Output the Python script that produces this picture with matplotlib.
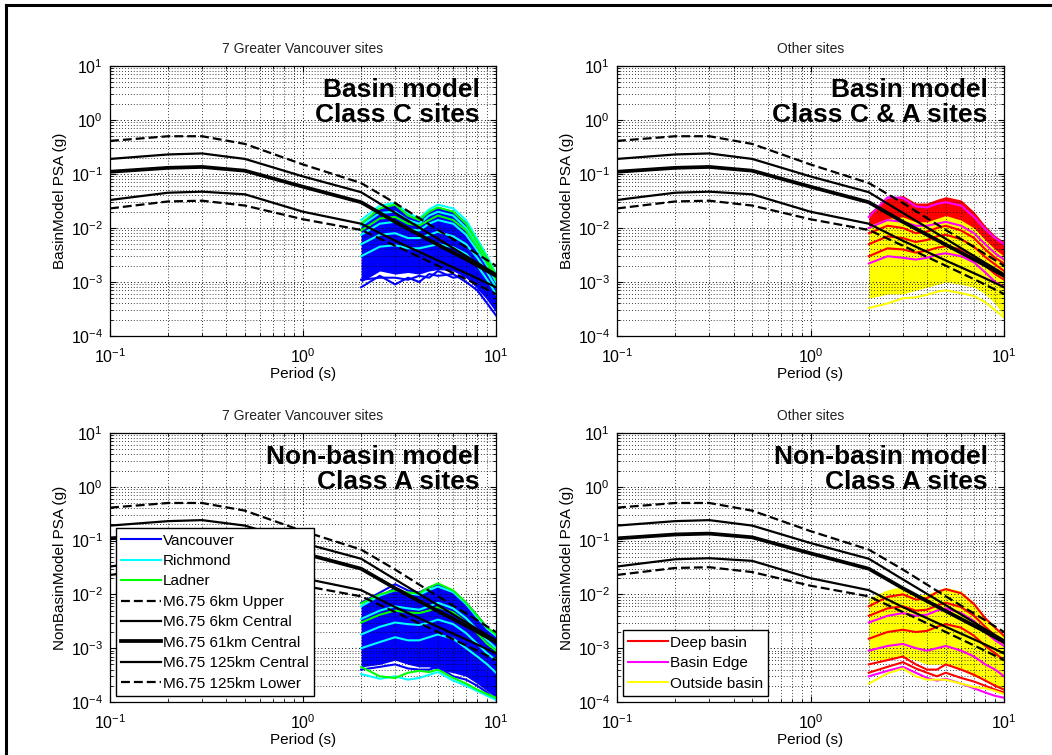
import matplotlib
matplotlib.use('Agg')
import matplotlib.pyplot as plt
from matplotlib.lines import Line2D

plt.rcParams['font.family'] = ['Liberation Sans', 'DejaVu Sans']
plt.rcParams['mathtext.default'] = 'regular'

# reference GMPE spectra (same in every panel)
P_REF = [0.1, 0.2, 0.3, 0.5, 1, 2, 3, 5, 7.5, 10]
ref_6km_upper = [0.41, 0.50, 0.50, 0.36, 0.15, 0.068, 0.029, 0.0092, 0.0038, 0.0020]
ref_6km_central = [0.19, 0.23, 0.24, 0.19, 0.090, 0.046, 0.019, 0.0063, 0.0026, 0.0014]
ref_61km_central = [0.11, 0.13, 0.135, 0.115, 0.058, 0.030, 0.013, 0.0049, 0.0023, 0.0013]
ref_125km_central = [0.033, 0.045, 0.047, 0.042, 0.020, 0.012, 0.0058, 0.0025, 0.0013, 0.0008]
ref_125km_lower = [0.023, 0.031, 0.032, 0.026, 0.0145, 0.0092, 0.0047, 0.0020, 0.0010, 0.0006]
REF_LABELS = ['M6.75 6km Upper', 'M6.75 6km Central', 'M6.75 61km Central',
              'M6.75 125km Central', 'M6.75 125km Lower']

# simulated spectra, periods 2-10 s
P_SIM = [2, 2.5, 3, 3.5, 4, 4.5, 5, 6, 7, 8, 9, 10]

# top left: basin model, Greater Vancouver
tl_band_hi = [0.013, 0.024, 0.027, 0.018, 0.015, 0.021, 0.025, 0.021, 0.013, 0.0060, 0.0029, 0.0014]
tl_band_lo = [0.0010, 0.0016, 0.0014, 0.0015, 0.0014, 0.0016, 0.0017, 0.0016, 0.0012, 0.0008, 0.0005, 0.00028]
tl_vancouver = [
    [0.0008, 0.0013, 0.0009, 0.0012, 0.0010, 0.0014, 0.0013, 0.0014, 0.0010, 0.0007, 0.0004, 0.00024],
    [0.0011, 0.0012, 0.0012, 0.0011, 0.0013, 0.0012, 0.0016, 0.0012, 0.0013, 0.0008, 0.0005, 0.0003],
]
tl_richmond = [
    [0.014, 0.026, 0.029, 0.019, 0.015, 0.022, 0.027, 0.023, 0.014, 0.0062, 0.0030, 0.0014],
    [0.011, 0.019, 0.020, 0.014, 0.012, 0.017, 0.020, 0.017, 0.010, 0.0050, 0.0025, 0.0012],
    [0.0075, 0.012, 0.013, 0.0095, 0.009, 0.012, 0.014, 0.012, 0.0075, 0.0038, 0.0020, 0.0010],
    [0.005, 0.0075, 0.008, 0.0065, 0.0065, 0.0075, 0.0085, 0.007, 0.005, 0.0028, 0.0015, 0.0008],
    [0.003, 0.0045, 0.0048, 0.0042, 0.0042, 0.0046, 0.005, 0.0044, 0.0033, 0.0020, 0.0011, 0.0006],
]
tl_ladner = [
    [0.012, 0.023, 0.027, 0.017, 0.014, 0.020, 0.024, 0.020, 0.012, 0.0055, 0.0027, 0.0013],
    [0.009, 0.015, 0.016, 0.012, 0.011, 0.014, 0.017, 0.014, 0.009, 0.0044, 0.0022, 0.0011],
]

# top right: basin model, other sites
tr_yellow_hi = [0.012, 0.017, 0.017, 0.014, 0.014, 0.016, 0.017, 0.015, 0.011, 0.0065, 0.0042, 0.0032]
tr_yellow_lo = [0.0005, 0.0006, 0.0006, 0.0007, 0.0008, 0.0009, 0.0010, 0.0009, 0.0008, 0.0006, 0.0004, 0.00023]
tr_red_hi = [0.019, 0.036, 0.040, 0.029, 0.029, 0.034, 0.038, 0.033, 0.020, 0.011, 0.0072, 0.0056]
tr_red_lo = [0.011, 0.015, 0.016, 0.013, 0.013, 0.015, 0.017, 0.014, 0.010, 0.0060, 0.0040, 0.0030]
tr_deep = [
    [0.008, 0.011, 0.010, 0.008, 0.0085, 0.010, 0.011, 0.009, 0.0065, 0.004, 0.0028, 0.0022],
    [0.005, 0.007, 0.0065, 0.0055, 0.006, 0.007, 0.0075, 0.0062, 0.0045, 0.0029, 0.0021, 0.0016],
    [0.003, 0.0042, 0.004, 0.0035, 0.0038, 0.0043, 0.0046, 0.0040, 0.0030, 0.0020, 0.0014, 0.0011],
]
tr_edge = [
    [0.016, 0.037, 0.036, 0.025, 0.024, 0.028, 0.030, 0.026, 0.016, 0.0095, 0.0065, 0.0050],
    [0.010, 0.014, 0.013, 0.011, 0.011, 0.012, 0.013, 0.011, 0.008, 0.005, 0.0034, 0.0026],
    [0.0022, 0.003, 0.0028, 0.0026, 0.0028, 0.0032, 0.0034, 0.003, 0.0023, 0.0015, 0.0010, 0.0008],
]
tr_outside = [
    [0.00033, 0.00040, 0.00050, 0.00052, 0.00058, 0.00066, 0.00070, 0.00062, 0.00055, 0.00042, 0.00030, 0.00022],
]

# bottom left: non-basin model, Greater Vancouver
bl_band_hi = [0.0065, 0.0100, 0.0140, 0.0110, 0.0100, 0.0125, 0.0145, 0.0110, 0.0067, 0.0038, 0.0023, 0.0017]
bl_band_lo = [0.00045, 0.0005, 0.0006, 0.0005, 0.00045, 0.00045, 0.0004, 0.00035, 0.0003, 0.00022, 0.00016, 0.00012]
bl_vancouver = [
    [0.0070, 0.0108, 0.0155, 0.0118, 0.0108, 0.0135, 0.0150, 0.0115, 0.0070, 0.0040, 0.0024, 0.0018],
    [0.0004, 0.00045, 0.0005, 0.00042, 0.0004, 0.0004, 0.00045, 0.0003, 0.00026, 0.0002, 0.00015, 0.00011],
]
bl_richmond = [
    [0.0060, 0.0095, 0.012, 0.0105, 0.0098, 0.0120, 0.0140, 0.0110, 0.0066, 0.0037, 0.0023, 0.0017],
    [0.0035, 0.0050, 0.0060, 0.0055, 0.0052, 0.0060, 0.0070, 0.0055, 0.0036, 0.0022, 0.0014, 0.0010],
    [0.0018, 0.0025, 0.0030, 0.0028, 0.0027, 0.0030, 0.0034, 0.0028, 0.0019, 0.0012, 0.0008, 0.0006],
    [0.0010, 0.0013, 0.0016, 0.0014, 0.0014, 0.0016, 0.0018, 0.0015, 0.0010, 0.0007, 0.0005, 0.00035],
    [0.00033, 0.00027, 0.00030, 0.00026, 0.00028, 0.00032, 0.00036, 0.00025, 0.0002, 0.00016, 0.00013, 0.00011],
]
bl_ladner = [
    [0.0068, 0.0100, 0.0120, 0.0108, 0.0105, 0.0135, 0.0160, 0.0118, 0.0070, 0.0040, 0.0024, 0.0018],
    [0.0030, 0.0042, 0.0050, 0.0046, 0.0045, 0.0050, 0.0058, 0.0046, 0.0030, 0.0019, 0.0012, 0.0009],
    [0.00045, 0.00030, 0.00028, 0.00035, 0.00038, 0.00036, 0.00040, 0.00028, 0.00022, 0.00017, 0.00014, 0.00012],
]

# bottom right: non-basin model, other sites
br_band_hi = [0.0085, 0.0122, 0.0140, 0.0100, 0.0100, 0.0120, 0.0135, 0.0115, 0.0070, 0.0037, 0.0024, 0.0017]
br_band_lo = [0.0006, 0.0006, 0.0007, 0.0006, 0.0005, 0.0005, 0.0005, 0.0004, 0.0003, 0.00025, 0.0002, 0.00016]
br_deep = [
    [0.0060, 0.0090, 0.0100, 0.0080, 0.0085, 0.0110, 0.0125, 0.0105, 0.0066, 0.0036, 0.0024, 0.0017],
    [0.0040, 0.0055, 0.0060, 0.0050, 0.0052, 0.0062, 0.0070, 0.0058, 0.0040, 0.0025, 0.0017, 0.0013],
    [0.0015, 0.0020, 0.0022, 0.0020, 0.0021, 0.0025, 0.0028, 0.0024, 0.0017, 0.0011, 0.0008, 0.0006],
    [0.0005, 0.0006, 0.0007, 0.0005, 0.0004, 0.0004, 0.0005, 0.0004, 0.00032, 0.00025, 0.0002, 0.00017],
    [0.00035, 0.00045, 0.00055, 0.00042, 0.00035, 0.00030, 0.00035, 0.00028, 0.00024, 0.0002, 0.00017, 0.00015],
]
br_edge = [
    [0.0030, 0.0040, 0.0045, 0.0040, 0.0042, 0.0050, 0.0055, 0.0045, 0.0032, 0.0020, 0.0014, 0.0011],
    [0.0009, 0.0011, 0.0012, 0.0010, 0.0009, 0.0010, 0.0011, 0.0009, 0.0007, 0.0005, 0.0004, 0.0003],
    [0.00030, 0.00038, 0.00045, 0.00035, 0.00028, 0.00025, 0.00027, 0.00022, 0.00018, 0.00015, 0.00013, 0.00012],
]
br_outside = [
    [0.00022, 0.00034, 0.00042, 0.00030, 0.00026, 0.00026, 0.00026, 0.00022, 0.00019, 0.00018, 0.00016, 0.00014],
]

BLUE, CYAN, GREEN = '#0000ff', '#00ffff', '#00ff00'
RED, MAGENTA, YELLOW = '#ff0000', '#ff00ff', '#ffff00'
DASH = (0, (4, 1.8))


def draw_panel(ax, title, ylabel, note, fills, groups):
    for lo, hi, color in fills:
        ax.fill_between(P_SIM, lo, hi, color=color, lw=0, zorder=1)
    for curves, color, label in groups:
        for i, c in enumerate(curves):
            ax.plot(P_SIM, c, color=color, lw=1.5, zorder=2,
                    label=label if i == 0 else None)
    refs = [ref_6km_upper, ref_6km_central, ref_61km_central, ref_125km_central, ref_125km_lower]
    styles = [(DASH, 1.6), ('-', 1.6), ('-', 2.7), ('-', 1.6), (DASH, 1.6)]
    for vals, (ls, lw), lab in zip(refs, styles, REF_LABELS):
        ax.plot(P_REF, vals, color='k', ls=ls, lw=lw, label=lab, zorder=3)

    ax.set_xscale('log')
    ax.set_yscale('log')
    ax.set_xlim(0.1, 10)
    ax.set_ylim(1e-4, 10)
    ax.set_xticks([0.1, 1, 10])
    ax.set_yticks([1e-4, 1e-3, 1e-2, 1e-1, 1, 10])
    ax.grid(True, which='major', ls=(0, (1, 2.5)), color='k', lw=0.7)
    ax.grid(True, which='minor', ls=(0, (1, 2.5)), color='k', lw=0.6)
    ax.tick_params(which='both', direction='in', top=True, right=True, labelsize=11.5)
    ax.tick_params(which='major', length=4)
    ax.tick_params(which='minor', length=2.5)
    ax.tick_params(axis='x', which='major', pad=8)
    ax.tick_params(axis='y', which='major', pad=5)
    for s in ax.spines.values():
        s.set_linewidth(0.9)
    ax.set_title(title, fontsize=10, color='#222222', pad=9)
    ax.set_xlabel('Period (s)', fontsize=11, labelpad=1)
    ax.set_ylabel(ylabel, fontsize=11, labelpad=3)
    ax.text(0.958, 0.955, note, transform=ax.transAxes, ha='right', va='top',
            fontsize=19, fontweight='bold', linespacing=1.05, zorder=5)


fig = plt.figure(figsize=(10.52, 7.55), dpi=100)
ax_tl = fig.add_axes([0.1046, 0.5550, 0.3669, 0.3576])
ax_tr = fig.add_axes([0.5865, 0.5550, 0.3679, 0.3576])
ax_bl = fig.add_axes([0.1046, 0.0702, 0.3669, 0.3563])
ax_br = fig.add_axes([0.5865, 0.0702, 0.3679, 0.3563])

draw_panel(ax_tl, '7 Greater Vancouver sites', 'BasinModel PSA (g)',
           'Basin model\nClass C sites',
           [(tl_band_lo, tl_band_hi, BLUE)],
           [(tl_vancouver, BLUE, 'Vancouver'), (tl_richmond, CYAN, 'Richmond'),
            (tl_ladner, GREEN, 'Ladner')])

draw_panel(ax_tr, 'Other sites', 'BasinModel PSA (g)',
           'Basin model\nClass C & A sites',
           [(tr_yellow_lo, tr_yellow_hi, YELLOW), (tr_red_lo, tr_red_hi, RED)],
           [(tr_deep, RED, 'Deep basin'), (tr_edge, MAGENTA, 'Basin Edge'),
            (tr_outside, YELLOW, 'Outside basin')])

draw_panel(ax_bl, '7 Greater Vancouver sites', 'NonBasinModel PSA (g)',
           'Non-basin model\nClass A sites',
           [(bl_band_lo, bl_band_hi, BLUE)],
           [(bl_vancouver, BLUE, 'Vancouver'), (bl_richmond, CYAN, 'Richmond'),
            (bl_ladner, GREEN, 'Ladner')])

draw_panel(ax_br, 'Other sites', 'NonBasinModel PSA (g)',
           'Non-basin model\nClass A sites',
           [(br_band_lo, br_band_hi, YELLOW)],
           [(br_deep, RED, 'Deep basin'), (br_edge, MAGENTA, 'Basin Edge'),
            (br_outside, YELLOW, 'Outside basin')])

leg_kw = dict(loc='lower left', fontsize=11, fancybox=False, edgecolor='k',
              framealpha=1, borderaxespad=0.4, handlelength=2.6,
              handletextpad=0.1, labelspacing=0.42, borderpad=0.35)

h, l = ax_bl.get_legend_handles_labels()
leg = ax_bl.legend(h, l, **leg_kw)
leg.get_frame().set_linewidth(1.0)
leg.set_zorder(10)

h, l = ax_br.get_legend_handles_labels()
leg = ax_br.legend(h[:3], l[:3], **leg_kw)
leg.get_frame().set_linewidth(1.0)
leg.set_zorder(10)

# frame lines at the left and top of the figure
fig.add_artist(Line2D([6 / 1052, 6 / 1052], [0, 1 - 5 / 755], transform=fig.transFigure,
                      color='k', lw=2.2))
fig.add_artist(Line2D([6 / 1052, 1], [1 - 5 / 755, 1 - 5 / 755], transform=fig.transFigure,
                      color='k', lw=2.2))

fig.savefig('out.png', dpi=100)
